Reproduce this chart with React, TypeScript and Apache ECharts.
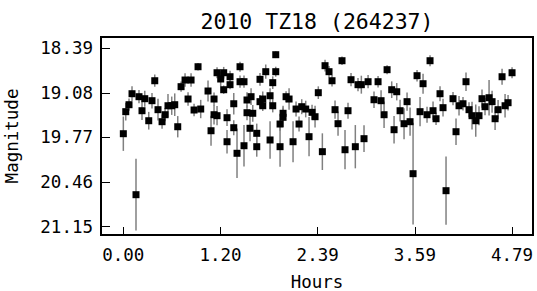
import React, { useEffect, useRef } from "react";
import * as echarts from "echarts";

const chartTitle = "2010 TZ18 (264237)";
const xName = "Hours";
const yName = "Magnitude";

const xTicks = [0, 1.1968, 2.3935, 3.5903, 4.787];
const yTicks = [18.39, 19.08, 19.77, 20.46, 21.15];

const hours = [
  0.000, 0.030, 0.070, 0.107, 0.156, 0.193, 0.230, 0.264, 0.313, 0.353,
  0.387, 0.427, 0.477, 0.514, 0.550, 0.596, 0.633, 0.670, 0.711, 0.760,
  0.797, 0.834, 0.871, 0.920, 0.953, 1.043, 1.080, 1.117, 1.117, 1.154,
  1.154, 1.199, 1.236, 1.236, 1.277, 1.277, 1.314, 1.314, 1.360, 1.360,
  1.400, 1.437, 1.437, 1.486, 1.486, 1.523, 1.523, 1.560, 1.573, 1.594,
  1.643, 1.643, 1.683, 1.683, 1.717, 1.717, 1.754, 1.807, 1.807, 1.840,
  1.840, 1.877, 1.877, 1.930, 1.930, 1.967, 1.967, 2.004, 2.041, 2.090,
  2.127, 2.164, 2.197, 2.246, 2.287, 2.324, 2.361, 2.401, 2.451, 2.484,
  2.533, 2.570, 2.607, 2.644, 2.693, 2.730, 2.767, 2.804, 2.857, 2.890,
  2.931, 2.964, 3.014, 3.087, 3.137, 3.174, 3.211, 3.248, 3.305, 3.334,
  3.367, 3.408, 3.457, 3.494, 3.531, 3.568, 3.617, 3.654, 3.691, 3.740,
  3.777, 3.814, 3.851, 3.900, 3.937, 3.974, 4.060, 4.097, 4.134, 4.183,
  4.220, 4.257, 4.294, 4.340, 4.380, 4.417, 4.454, 4.504, 4.541, 4.578,
  4.615, 4.664, 4.701, 4.738, 4.787,
];

const magnitudes = [
  19.712, 19.371, 19.263, 19.093, 20.656, 19.139, 19.356, 19.170, 19.511, 19.201,
  18.892, 19.340, 19.526, 19.418, 19.279, 19.279, 19.263, 19.604, 18.984, 18.881,
  19.175, 18.881, 19.345, 18.675, 19.330, 19.051, 19.666, 19.175, 19.418, 18.768,
  19.433, 18.865, 18.768, 19.031, 19.464, 19.836, 18.830, 18.953, 19.248, 19.619,
  20.015, 18.675, 18.907, 18.907, 19.898, 19.190, 19.387, 19.628, 19.139, 19.396,
  19.706, 19.913, 18.870, 19.216, 19.175, 19.279, 18.752, 19.124, 19.809, 18.922,
  19.279, 18.489, 18.752, 19.562, 19.913, 19.396, 19.458, 19.139, 19.175, 19.836,
  19.330, 19.562, 19.294, 19.330, 19.758, 19.381, 19.449, 19.077, 19.990, 18.659,
  18.752, 18.892, 19.340, 19.557, 18.582, 19.960, 19.356, 18.876, 19.913, 18.953,
  18.953, 19.789, 18.907, 19.186, 18.907, 19.201, 19.418, 18.721, 19.031, 19.650,
  19.062, 19.356, 19.557, 19.216, 19.526, 20.331, 18.814, 19.371, 18.938, 19.418,
  18.582, 19.356, 19.480, 19.093, 19.309, 20.594, 19.170, 19.681, 19.279, 19.248,
  18.907, 19.340, 19.433, 19.511, 19.433, 19.170, 19.294, 19.155, 19.216, 19.480,
  19.340, 18.830, 19.279, 19.232, 18.768,
];

const errors = [
  0.266, 0.137, 0.095, 0.114, 0.555, 0.103, 0.142, 0.124, 0.137, 0.121,
  0.095, 0.168, 0.111, 0.103, 0.181, 0.142, 0.175, 0.165, 0.080, 0.103,
  0.103, 0.103, 0.098, 0.057, 0.142, 0.163, 0.232, 0.100, 0.150, 0.085,
  0.150, 0.116, 0.090, 0.065, 0.129, 0.181, 0.093, 0.072, 0.168, 0.116,
  0.382, 0.077, 0.095, 0.095, 0.322, 0.120, 0.116, 0.200, 0.129, 0.129,
  0.150, 0.155, 0.098, 0.103, 0.116, 0.080, 0.111, 0.116, 0.289, 0.098,
  0.103, 0.052, 0.077, 0.103, 0.310, 0.116, 0.150, 0.085, 0.168, 0.317,
  0.116, 0.116, 0.116, 0.129, 0.304, 0.116, 0.168, 0.098, 0.284, 0.090,
  0.090, 0.090, 0.142, 0.188, 0.065, 0.304, 0.124, 0.103, 0.335, 0.103,
  0.139, 0.206, 0.103, 0.129, 0.088, 0.163, 0.206, 0.070, 0.129, 0.212,
  0.134, 0.168, 0.240, 0.142, 0.219, 0.787, 0.090, 0.227, 0.155, 0.124,
  0.085, 0.142, 0.098, 0.116, 0.137, 0.529, 0.103, 0.206, 0.150, 0.103,
  0.142, 0.116, 0.214, 0.250, 0.147, 0.142, 0.134, 0.276, 0.170, 0.175,
  0.150, 0.124, 0.181, 0.121, 0.085,
];

const FONT = "'DejaVu Sans Mono', monospace";

export default function App() {
  const ref = useRef<HTMLDivElement>(null);

  useEffect(() => {
    const chart = echarts.init(ref.current!, null, { renderer: "svg" });
    const points = hours.map((h, i) => [h, magnitudes[i], errors[i]]);

    chart.setOption({
      animation: false,
      backgroundColor: "#ffffff",
      grid: {
        left: 101,
        right: 4,
        top: 37,
        bottom: 56,
        containLabel: false,
        outerBoundsMode: "none",
        show: true,
        borderColor: "#000",
        borderWidth: 2,
        backgroundColor: "transparent",
      },
      graphic: [
        {
          type: "text",
          x: 317,
          y: 21,
          style: {
            text: chartTitle,
            font: `21.5px ${FONT}`,
            fill: "#000",
            textAlign: "center",
            textVerticalAlign: "middle",
          },
        },
      ],
      xAxis: {
        type: "value",
        min: -0.275,
        max: 5.045,
        name: xName,
        nameLocation: "middle",
        nameGap: 38,
        nameTextStyle: { fontFamily: FONT, fontSize: 17.5, color: "#000" },
        axisLine: { show: true, onZero: false, lineStyle: { color: "#000", width: 2 } },
        axisTick: {
          show: true,
          inside: true,
          length: 8,
          customValues: xTicks,
          lineStyle: { color: "#000", width: 1 },
        },
        axisLabel: {
          show: true,
          customValues: xTicks,
          formatter: (v: number) => v.toFixed(2),
          fontFamily: FONT,
          fontSize: 17.5,
          color: "#000",
          margin: 11,
        },
        splitLine: { show: false },
      },
      yAxis: {
        type: "value",
        inverse: true,
        min: 18.215,
        max: 21.28,
        name: yName,
        nameLocation: "middle",
        nameGap: 80,
        nameTextStyle: { fontFamily: FONT, fontSize: 17.5, color: "#000" },
        axisLine: { show: true, onZero: false, lineStyle: { color: "#000", width: 2 } },
        axisTick: {
          show: true,
          inside: true,
          length: 9,
          customValues: yTicks,
          lineStyle: { color: "#000", width: 1 },
        },
        axisLabel: {
          show: true,
          customValues: yTicks,
          formatter: (v: number) => v.toFixed(2),
          fontFamily: FONT,
          fontSize: 17.5,
          color: "#000",
          margin: 8,
        },
        splitLine: { show: false },
      },
      series: [
        {
          type: "custom",
          name: "error",
          data: points,
          encode: { x: 0, y: 1 },
          clip: true,
          z: 1,
          renderItem: (params: any, api: any) => {
            const x = api.value(0);
            const y = api.value(1);
            const e = api.value(2);
            const p1 = api.coord([x, y - e]);
            const p2 = api.coord([x, y + e]);
            return {
              type: "line",
              shape: { x1: p1[0], y1: p1[1], x2: p2[0], y2: p2[1] },
              style: { stroke: "#808080", lineWidth: 1.5 },
            };
          },
        },
        {
          type: "scatter",
          name: "mag",
          data: points.map((p) => [p[0], p[1]]),
          symbol: "rect",
          symbolSize: 7,
          itemStyle: { color: "#000", opacity: 1 },
          z: 2,
        },
      ],
    });

    return () => chart.dispose();
  }, []);

  return (
    <div
      ref={ref}
      style={{ position: "fixed", left: 0, top: 0, width: 537, height: 291 }}
    />
  );
}
